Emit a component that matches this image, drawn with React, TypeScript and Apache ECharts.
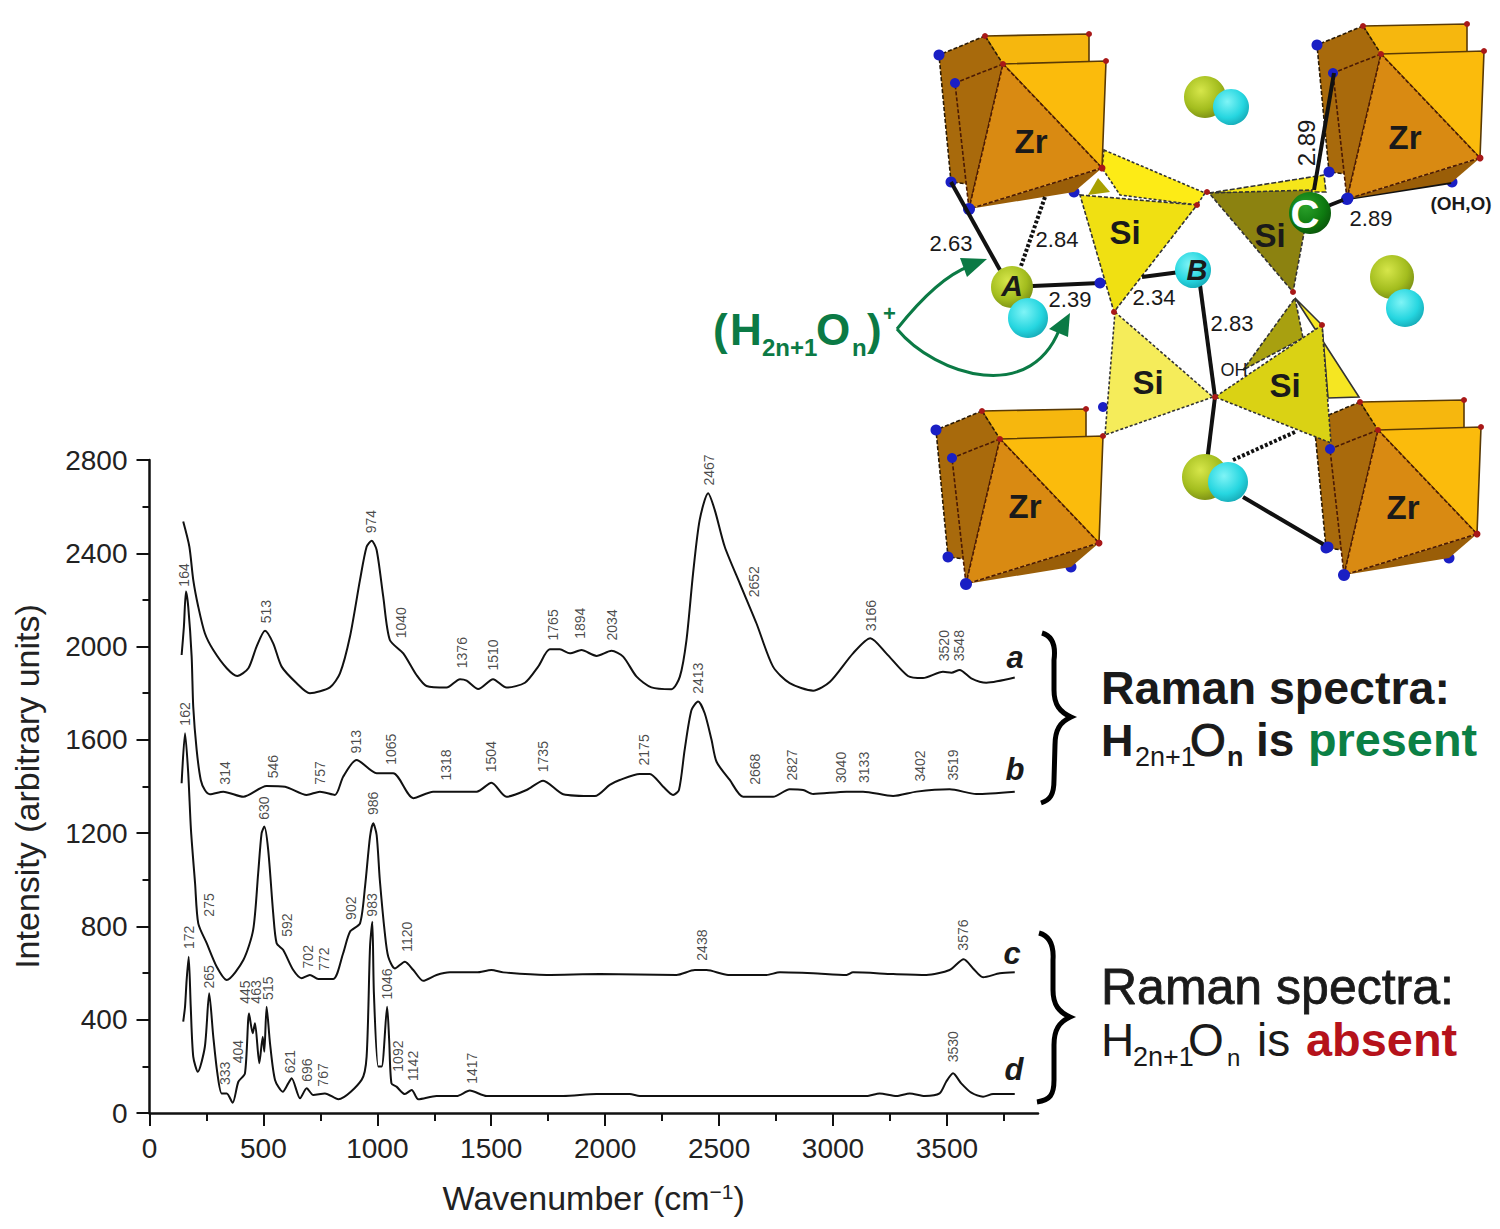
import React, { useEffect, useRef } from "react";
import * as echarts from "echarts";

const FONT = "'Liberation Sans', Arial, sans-serif";

const seriesA = [[148,2536],[175,2428],[192,2286],[214,2171],[243,2057],[280,1985],[339,1907],[385,1874],[434,1907],[470,2000],[507,2068],[543,2014],[580,1914],[646,1843],[704,1800],[792,1825],[836,1885],[880,2043],[924,2286],[953,2428],[975,2454],[997,2414],[1026,2214],[1055,2028],[1114,1971],[1172,1878],[1216,1831],[1304,1824],[1363,1860],[1392,1854],[1443,1818],[1508,1860],[1567,1824],[1648,1845],[1706,1914],[1757,1988],[1801,1988],[1845,1971],[1896,1985],[1962,1960],[2028,1982],[2079,1957],[2138,1871],[2203,1825],[2291,1817],[2328,1871],[2357,2028],[2386,2314],[2415,2543],[2452,2657],[2481,2586],[2525,2428],[2591,2271],[2664,2100],[2737,1914],[2810,1843],[2913,1811],[2987,1849],[3088,1971],[3164,2036],[3234,1971],[3329,1874],[3395,1865],[3483,1892],[3520,1888],[3556,1900],[3607,1864],[3673,1845],[3798,1867]];
const seriesB = [[141,1964],[151,2085],[160,2236],[170,2171],[185,1957],[192,1742],[207,1557],[225,1428],[243,1385],[265,1367],[324,1378],[412,1356],[514,1402],[595,1399],[690,1364],[748,1378],[814,1364],[850,1442],[909,1514],[997,1457],[1070,1457],[1158,1350],[1245,1378],[1436,1378],[1501,1416],[1567,1356],[1655,1385],[1728,1425],[1816,1367],[1955,1359],[2020,1407],[2064,1428],[2152,1454],[2196,1454],[2255,1399],[2298,1364],[2324,1385],[2349,1557],[2379,1728],[2408,1764],[2437,1714],[2467,1600],[2489,1506],[2547,1428],[2606,1356],[2737,1356],[2810,1388],[2869,1385],[2913,1368],[3060,1378],[3132,1378],[3264,1359],[3367,1378],[3512,1388],[3629,1368],[3798,1378]];
const seriesC = [[141,1414],[156,1628],[170,1457],[182,1214],[200,985],[214,813],[251,728],[295,627],[339,570],[412,656],[455,785],[477,1028],[492,1199],[504,1228],[521,1128],[543,856],[558,728],[587,699],[631,613],[668,578],[704,592],[741,575],[807,575],[850,685],[880,777],[924,813],[946,970],[968,1185],[982,1242],[997,1192],[1011,999],[1033,771],[1048,670],[1077,620],[1121,649],[1158,613],[1201,567],[1260,592],[1319,603],[1436,603],[1501,613],[1553,603],[1743,592],[1977,596],[2313,592],[2394,613],[2445,613],[2540,592],[2708,592],[2767,603],[2913,599],[3060,592],[3088,603],[3264,596],[3410,592],[3512,613],[3574,659],[3615,620],[3659,582],[3732,599],[3798,603]];
const seriesD = [[148,392],[156,456],[163,570],[172,670],[181,456],[192,242],[212,177],[243,284],[262,513],[280,327],[298,170],[317,84],[339,84],[365,44],[390,134],[419,170],[437,427],[453,342],[463,385],[482,213],[497,327],[504,263],[514,456],[529,299],[551,142],[585,91],[609,127],[624,149],[661,63],[690,106],[719,77],[770,84],[829,59],[931,142],[953,242],[968,713],[978,820],[985,513],[1004,199],[1019,199],[1043,456],[1052,313],[1062,127],[1084,113],[1121,81],[1151,99],[1180,59],[1260,73],[1348,73],[1406,96],[1480,73],[1816,73],[1962,81],[2108,81],[2152,73],[3147,73],[3205,84],[3279,73],[3337,84],[3403,73],[3468,84],[3497,134],[3527,170],[3563,127],[3607,87],[3659,70],[3703,81],[3798,81]];

const peaksA = [[153,2307,"164"],[511,2150,"513"],[971,2536,"974"],[1102,2102,"1040"],[1370,1974,"1376"],[1509,1964,"1510"],[1772,2093,"1765"],[1889,2100,"1894"],[2031,2093,"2034"],[2456,2757,"2467"],[2653,2278,"2652"],[3165,2133,"3166"],[3488,2004,"3520"],[3553,2004,"3548"]];
const peaksB = [[156,1711,"162"],[331,1458,"314"],[543,1485,"546"],[748,1458,"757"],[905,1592,"913"],[1058,1560,"1065"],[1301,1492,"1318"],[1497,1528,"1504"],[1728,1528,"1735"],[2170,1557,"2175"],[2408,1864,"2413"],[2657,1474,"2668"],[2822,1492,"2827"],[3037,1482,"3040"],[3135,1482,"3133"],[3384,1488,"3402"],[3527,1492,"3519"]];
const peaksC = [[262,892,"275"],[504,1307,"630"],[602,806,"592"],[697,670,"702"],[767,660,"772"],[884,878,"902"],[979,1328,"986"],[1129,756,"1120"],[2423,720,"2438"],[3571,763,"3576"]];
const peaksD = [[175,753,"172"],[262,584,"265"],[331,170,"333"],[387,263,"404"],[419,518,"445"],[467,519,"463"],[521,535,"515"],[617,220,"621"],[690,184,"696"],[763,163,"767"],[975,892,"983"],[1041,553,"1046"],[1092,244,"1092"],[1158,202,"1142"],[1414,192,"1417"],[3527,284,"3530"]];

const xMajorTicks = [0, 500, 1000, 1500, 2000, 2500, 3000, 3500];
const xMinorTicks = [250, 750, 1250, 1750, 2250, 2750, 3250, 3750];

const BLUE = "#1a1fc4";
const RED = "#a81818";

function T(text: string, x: number, y: number, size: number, o: any = {}) {
  return {
    type: "text",
    silent: true,
    x,
    y,
    rotation: o.rotation || 0,
    z: 50,
    style: {
      text,
      x: 0,
      y: 0,
      fontFamily: FONT,
      fontSize: size,
      fontWeight: o.weight || "normal",
      fontStyle: o.italic ? "italic" : "normal",
      fill: o.color || "#1a1a1a",
      stroke: o.stroke ? o.color || "#1a1a1a" : undefined,
      lineWidth: o.stroke || 0,
      align: o.align || "left",
      verticalAlign: "middle",
    },
  };
}

function poly(points: number[][], fill: string, stroke?: string, dash?: number[], z = 10) {
  return {
    type: "polygon",
    silent: true,
    z,
    shape: { points },
    style: { fill, stroke: stroke || "none", lineWidth: stroke ? 1.6 : 0, lineDash: dash || null },
  };
}

function bond(a: number[], b: number[], dash?: number[], z = 20, w = 4) {
  return {
    type: "line",
    silent: true,
    z,
    shape: { x1: a[0], y1: a[1], x2: b[0], y2: b[1] },
    style: { stroke: "#111", lineWidth: w, lineDash: dash || null },
  };
}

function dot(x: number, y: number, r: number, fill: string, z = 25) {
  return { type: "circle", silent: true, z, shape: { cx: x, cy: y, r }, style: { fill } };
}

function sphere(x: number, y: number, r: number, light: string, mid: string, dark: string, z = 30) {
  return {
    type: "circle",
    silent: true,
    z,
    shape: { cx: x, cy: y, r },
    style: {
      fill: new echarts.graphic.RadialGradient(0.4, 0.35, 0.75, [
        { offset: 0, color: light },
        { offset: 0.6, color: mid },
        { offset: 1, color: dark },
      ]),
    },
  };
}

function zrCluster(dx: number, dy: number) {
  const p = (x: number, y: number) => [x + dx, y + dy];
  return [
    poly([p(985, 36), p(1089, 34), p(1089, 70), p(1003, 66)], "#F6B70E", "#5a3a05", undefined, 12),
    poly([p(985, 36), p(939, 55), p(951, 182), p(968, 184), p(1003, 64)], "#A86A0C", "#2a1a05", [4, 2], 12),
    poly([p(1003, 64), p(1106, 61), p(1102, 168)], "#FBBB0C", "#5a3a05", undefined, 13),
    poly([p(1102, 168), p(1074, 192), p(969, 209)], "#9A5E08", undefined, undefined, 13),
    poly([p(1003, 64), p(955, 83), p(969, 209)], "#A96A0C", "#4a1a05", [4, 2], 14),
    poly([p(1003, 64), p(1102, 168), p(969, 209)], "#D98A12", "#4a1a05", [4, 2], 15),
    dot(p(939, 55)[0], p(939, 55)[1], 5.5, BLUE, 16),
    dot(p(955, 83)[0], p(955, 83)[1], 5, BLUE, 16),
    dot(p(951, 182)[0], p(951, 182)[1], 5.5, BLUE, 16),
    dot(p(969, 209)[0], p(969, 209)[1], 6, BLUE, 16),
    dot(p(1074, 192)[0], p(1074, 192)[1], 5.5, BLUE, 12),
    dot(p(985, 36)[0], p(985, 36)[1], 3, RED, 16),
    dot(p(1089, 34)[0], p(1089, 34)[1], 3, RED, 16),
    dot(p(1003, 64)[0], p(1003, 64)[1], 3, RED, 16),
    dot(p(1106, 61)[0], p(1106, 61)[1], 3, RED, 16),
    dot(p(1102, 168)[0], p(1102, 168)[1], 3.5, RED, 16),
  ];
}

function formula(x: number, baseline: number, parts: any) {
  return parts.map((q: any) => T(q[0], x + q[1], baseline + q[2], q[3], { weight: q[4], color: q[5], stroke: q[6] }));
}

function buildGraphics() {
  const GREEN = "#0b7a45";
  const els: any[] = [];

  // structure: silicate tetrahedra behind the Zr polyhedra
  els.push(poly([[1104, 150], [1205, 193], [1197, 205], [1120, 195], [1102, 168]], "#FDEB16", "#333", [3, 2], 5));
  els.push(poly([[1098, 178], [1110, 192], [1088, 195]], "#A8A000", undefined, undefined, 6));
  els.push(poly([[1209, 193], [1324, 175], [1326, 192], [1312, 192]], "#F5E61A", "#333", [5, 2], 5));
  els.push(poly([[1295, 298], [1359, 397], [1328, 398], [1322, 325]], "#F5E622", "#333", undefined, 5));
  els.push(dot(1103, 407, 5, BLUE, 5));

  els.push(...zrCluster(0, 0), ...zrCluster(378, -10), ...zrCluster(-3, 375), ...zrCluster(375, 366));

  // front tetrahedra
  els.push(poly([[1080, 195], [1197, 205], [1114, 312]], "#F0E012", "#333", [4, 2], 18));
  els.push(poly([[1209, 193], [1312, 190], [1293, 292]], "#8C8210", "#333", [4, 2], 18));
  els.push(poly([[1295, 298], [1303, 338], [1243, 370]], "#A8A010", "#333", [4, 2], 18));
  els.push(poly([[1115, 312], [1213, 397], [1105, 435]], "#F5EC5A", "#333", [3, 2], 18));
  els.push(poly([[1322, 325], [1215, 397], [1331, 443]], "#DAD214", "#333", [3, 2], 19));

  // bonds
  els.push(bond([951, 182], [1000, 270]));
  els.push(bond([1045, 197], [1021, 266], [3, 2]));
  els.push(bond([1012, 287], [1100, 283]));
  els.push(bond([1142, 277], [1180, 272]));
  els.push(bond([1200, 285], [1215, 397]));
  els.push(bond([1215, 397], [1207, 462]));
  els.push(bond([1314, 190], [1334, 73]));
  els.push(bond([1310, 213], [1348, 198]));
  els.push(bond([1348, 198], [1451, 182], undefined, 12));
  els.push(bond([1243, 497], [1328, 547]));
  els.push(bond([1233, 460], [1295, 432], [3, 2]));

  for (const q of [[1100, 283], [1348, 198], [1328, 547]]) els.push(dot(q[0], q[1], 5.5, BLUE));
  for (const q of [[1114, 312], [1197, 205], [1207, 192], [1293, 292], [1322, 325], [1215, 397]]) els.push(dot(q[0], q[1], 3, RED));

  // atoms
  const lime = ["#d6e64a", "#a3bd1e", "#6f8212"];
  const cyan = ["#7ff4f6", "#26d6e0", "#12a0ad"];
  els.push(sphere(1205, 97, 21, lime[0], lime[1], lime[2]), sphere(1231, 107, 18, cyan[0], cyan[1], cyan[2], 31));
  els.push(sphere(1392, 277, 22, lime[0], lime[1], lime[2]), sphere(1405, 308, 19, cyan[0], cyan[1], cyan[2], 31));
  els.push(sphere(1012, 287, 21, lime[0], lime[1], lime[2]), sphere(1028, 318, 20, cyan[0], cyan[1], cyan[2], 31));
  els.push(sphere(1193, 270, 18, cyan[0], cyan[1], cyan[2]));
  els.push(sphere(1310, 213, 21, "#2aa02a", "#0e7a10", "#0a4d0a"));
  els.push(sphere(1205, 477, 23, lime[0], lime[1], lime[2]), sphere(1228, 482, 20, cyan[0], cyan[1], cyan[2], 31));

  // structure labels
  for (const q of [[1031, 141], [1405, 137], [1025, 506], [1403, 507]]) els.push(T("Zr", q[0], q[1], 33, { weight: "bold", align: "center" }));
  for (const q of [[1125, 232], [1270, 235], [1148, 382], [1285, 385]]) els.push(T("Si", q[0], q[1], 33, { weight: "bold", align: "center" }));
  els.push(T("A", 1012, 285, 30, { weight: "bold", italic: true, align: "center" }));
  els.push(T("B", 1197, 270, 29, { weight: "bold", italic: true, align: "center" }));
  els.push(T("C", 1305, 214, 40, { weight: "bold", color: "#fff", align: "center" }));
  els.push(T("2.63", 951, 243, 22, { align: "center" }));
  els.push(T("2.84", 1057, 239, 22, { align: "center" }));
  els.push(T("2.39", 1070, 299, 22, { align: "center" }));
  els.push(T("2.34", 1154, 297, 22, { align: "center" }));
  els.push(T("2.83", 1232, 323, 22, { align: "center" }));
  els.push(T("2.89", 1306, 143, 24, { align: "center", rotation: Math.PI / 2 }));
  els.push(T("2.89", 1371, 218, 22, { align: "center" }));
  els.push(T("(OH,O)", 1461, 203, 19, { align: "center", weight: "bold" }));
  els.push(T("OH", 1234, 370, 18, { align: "center" }));

  // hydronium-cluster formula with arrows
  els.push(...formula(713, 343, [
    ["(", 0, -14, 44, "bold", GREEN],
    ["H", 17, -14, 44, "bold", GREEN],
    ["2n+1", 49, 4, 24, "bold", GREEN],
    ["O", 103, -14, 44, "bold", GREEN],
    ["n", 139, 4, 24, "bold", GREEN],
    [")", 154, -14, 44, "bold", GREEN],
    ["+", 170, -30, 22, "bold", GREEN],
  ]));
  els.push({ type: "bezierCurve", silent: true, z: 40, shape: { x1: 897, y1: 329, cpx1: 920, cpy1: 300, cpx2: 945, cpy2: 275, x2: 970, y2: 266 }, style: { stroke: GREEN, lineWidth: 3, fill: "none" } });
  els.push({ type: "bezierCurve", silent: true, z: 40, shape: { x1: 897, y1: 329, cpx1: 935, cpy1: 375, cpx2: 1035, cpy2: 408, x2: 1062, y2: 322 }, style: { stroke: GREEN, lineWidth: 3, fill: "none" } });
  els.push(poly([[987, 259], [960, 258], [967, 277]], GREEN, undefined, undefined, 41));
  els.push(poly([[1070, 313], [1049, 329], [1068, 337]], GREEN, undefined, undefined, 41));

  // spectrum letters
  for (const q of [["a", 1015, 657], ["b", 1015, 769], ["c", 1012, 953], ["d", 1014, 1069]] as any[]) {
    els.push(T(q[0], q[1], q[2], 31, { weight: "bold", italic: true, align: "center" }));
  }

  // braces
  els.push({ type: "brace1", silent: true, z: 40, style: { fill: "none", stroke: "#000", lineWidth: 5 } });
  els.push({ type: "brace2", silent: true, z: 40, style: { fill: "none", stroke: "#000", lineWidth: 5 } });

  // right-hand captions
  els.push(T("Raman spectra:", 1101, 688, 46.5, { weight: "bold" }));
  els.push(...formula(1101, 755, [
    ["H", 0, -15, 45, "bold"],
    ["2n+1", 34, 2, 27, "normal"],
    ["O", 89, -15, 46, "normal", undefined, 1],
    ["n", 126, 2, 27, "bold"],
    ["is", 155, -15, 46, "bold"],
    ["present", 207, -15, 46.8, "bold", "#0b8045"],
  ]));
  els.push(T("Raman spectra:", 1101, 987, 50, { stroke: 0.8 }));
  els.push(...formula(1101, 1055, [
    ["H", 0, -15, 46, "normal"],
    ["2n+1", 32, 2, 27, "normal"],
    ["O", 87, -15, 46, "normal"],
    ["n", 126, 2, 24, "normal"],
    ["is", 156, -15, 46, "normal"],
    ["absent", 205, -15, 46.9, "bold", "#b5121b"],
  ]));

  return els;
}

function peakSeries(data: any[]) {
  return {
    type: "scatter",
    data,
    symbolSize: 1,
    silent: true,
    itemStyle: { color: "transparent" },
    label: {
      show: true,
      position: "inside",
      rotate: 90,
      fontFamily: FONT,
      fontSize: 14,
      color: "#1a1a1a",
      formatter: (p: any) => p.value[2],
    },
  };
}

function lineSeries(data: number[][]) {
  return {
    type: "line",
    data,
    showSymbol: false,
    smooth: 0.25,
    silent: true,
    lineStyle: { color: "#111", width: 2 },
  };
}

echarts.graphic.registerShape(
  "brace1",
  echarts.graphic.extendPath("M1042 633 C1052 636 1056 645 1054 660 L1054 690 C1054 705 1060 712 1071 717 C1060 722 1055 730 1055 745 L1054 780 C1054 795 1050 800 1041 803", {})
);
echarts.graphic.registerShape(
  "brace2",
  echarts.graphic.extendPath("M1039 933 C1050 936 1054 945 1053 960 L1053 990 C1053 1005 1059 1012 1070 1017 C1059 1022 1054 1030 1054 1045 L1054 1080 C1054 1095 1050 1100 1037 1102", {})
);

export default function App() {
  const ref = useRef<HTMLDivElement>(null);
  useEffect(() => {
    const chart = echarts.init(ref.current!, null, { renderer: "svg" });
    const axisLine = { show: true, onZero: false, lineStyle: { color: "#111", width: 2.5 } };
    const plain = (v: number) => String(v);
    chart.setOption({
      animation: false,
      backgroundColor: "#fff",
      grid: { left: 149.5, top: 460, width: 888.5, height: 653, containLabel: false, outerBoundsMode: "none" },
      xAxis: [
        {
          type: "value",
          min: 0,
          max: 3900,
          interval: 500,
          position: "bottom",
          axisLine,
          splitLine: { show: false },
          axisTick: { show: true, length: 13, customValues: xMajorTicks, lineStyle: { color: "#111", width: 2 } },
          axisLabel: { customValues: xMajorTicks, formatter: plain, fontFamily: FONT, fontSize: 28, color: "#222", margin: 21 },
          name: "Wavenumber (cm{sup|−1})",
          nameLocation: "middle",
          nameGap: 68,
          nameTextStyle: {
            fontFamily: FONT,
            fontSize: 34,
            color: "#222",
            rich: { sup: { fontFamily: FONT, fontSize: 21, color: "#222", verticalAlign: "top", lineHeight: 32 } },
          },
        },
        {
          type: "value",
          min: 0,
          max: 3900,
          interval: 500,
          position: "bottom",
          axisLine: { show: false, onZero: false },
          splitLine: { show: false },
          axisTick: { show: true, length: 8, customValues: xMinorTicks, lineStyle: { color: "#111", width: 2 } },
          axisLabel: { show: false },
        },
      ],
      yAxis: {
        type: "value",
        min: 0,
        max: 2800,
        interval: 400,
        axisLine,
        splitLine: { show: false },
        axisTick: { show: true, length: 13, lineStyle: { color: "#111", width: 2 } },
        minorTick: { show: true, splitNumber: 2, length: 7, lineStyle: { color: "#111", width: 2 } },
        axisLabel: { formatter: plain, fontFamily: FONT, fontSize: 28, color: "#222", margin: 22 },
        name: "Intensity (arbitrary units)",
        nameLocation: "middle",
        nameGap: 106,
        nameTextStyle: { fontFamily: FONT, fontSize: 34, color: "#222" },
      },
      series: [
        lineSeries(seriesA),
        lineSeries(seriesB),
        lineSeries(seriesC),
        lineSeries(seriesD),
        peakSeries(peaksA),
        peakSeries(peaksB),
        peakSeries(peaksC),
        peakSeries(peaksD),
      ],
      graphic: { elements: buildGraphics() },
    });
    return () => chart.dispose();
  }, []);
  return <div ref={ref} style={{ position: "absolute", left: 0, top: 0, width: 1500, height: 1229, background: "#fff" }} />;
}
